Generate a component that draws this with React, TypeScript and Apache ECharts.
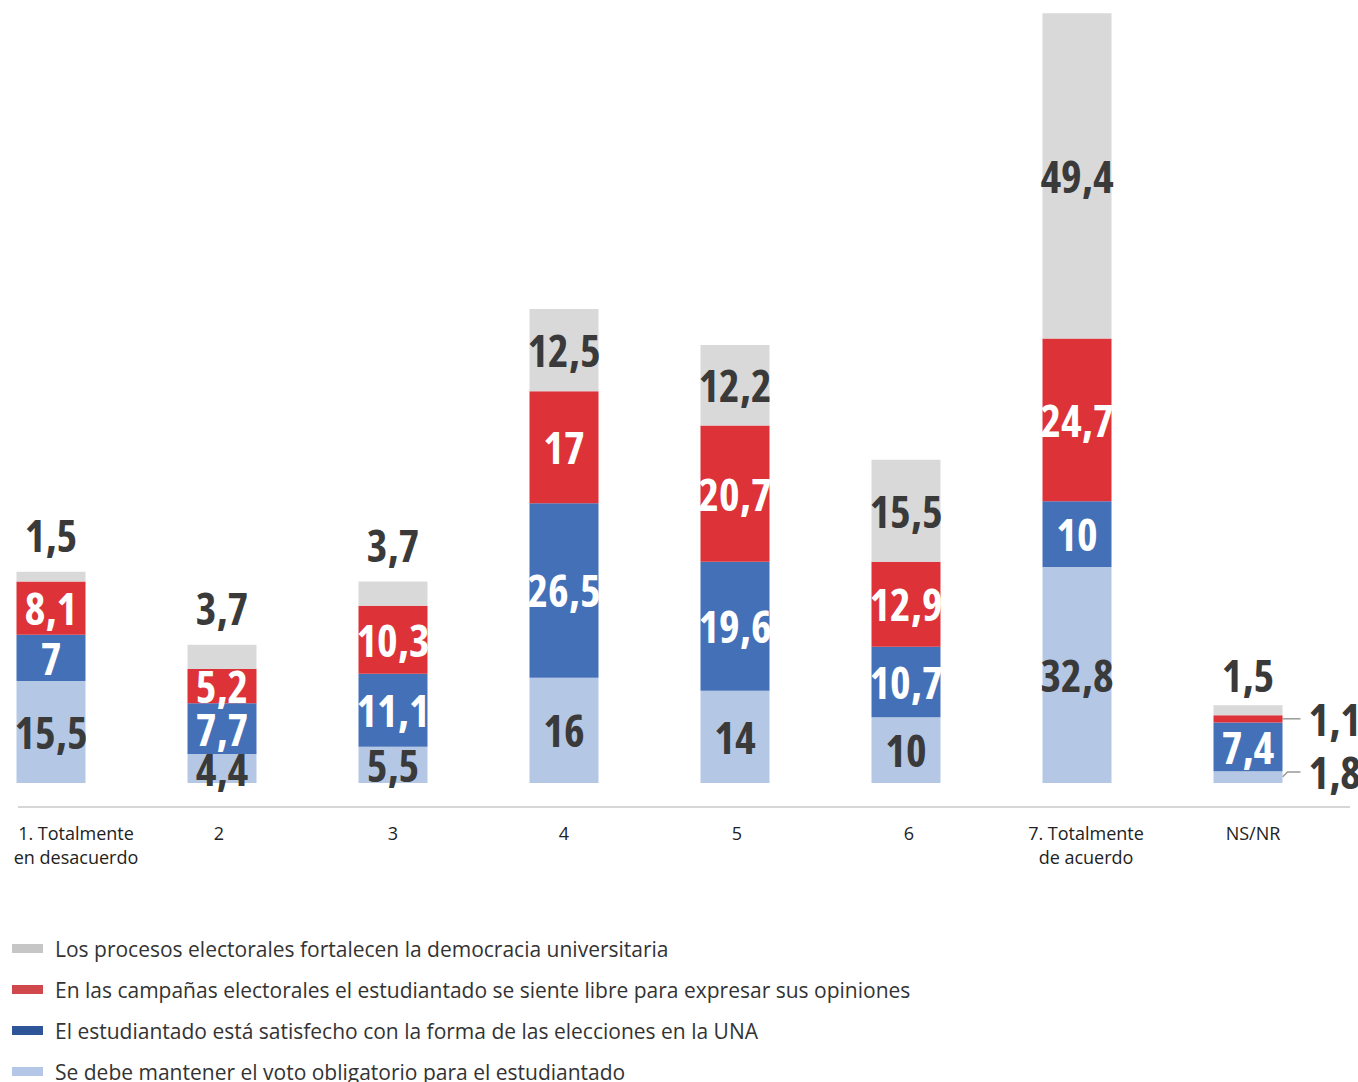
import React, { useEffect, useRef } from "react";
import * as echarts from "echarts";

const categories = ["1. Totalmente\nen desacuerdo", "2", "3", "4", "5", "6", "7. Totalmente\nde acuerdo", "NS/NR"];
const labelShift = [25, -3, 0, 0, 2, 3, 9, 5];

const seriesNames = [
  "Se debe mantener el voto obligatorio para el estudiantado",
  "El estudiantado está satisfecho con la forma de las elecciones en la UNA",
  "En las campañas electorales el estudiantado se siente libre para expresar sus opiniones",
  "Los procesos electorales fortalecen la democracia universitaria",
];
const votoObligatorio = [15.5, 4.4, 5.5, 16, 14, 10, 32.8, 1.8];
const satisfecho = [7, 7.7, 11.1, 26.5, 19.6, 10.7, 10, 7.4];
const libre = [8.1, 5.2, 10.3, 17, 20.7, 12.9, 24.7, 1.1];
const fortalecen = [1.5, 3.7, 3.7, 12.5, 12.2, 15.5, 49.4, 1.5];
const seriesValues = [votoObligatorio, satisfecho, libre, fortalecen];

const barColors = ["#b4c8e6", "#4470b8", "#dc3238", "#d9d9d9"];
const legendColors = ["#b4c7e7", "#2e5597", "#d0484c", "#c6c6c6"];
const labelColors = ["#3a3a3a", "#ffffff", "#ffffff", "#3a3a3a"];

// bar value labels: Open Sans bold, narrowed with font-stretch via the CSS below
const LABEL_FONT = "'Open Sans', oscmark, sans-serif";
const SHIFT = 50; // container starts 50px left of the page

const CSS = `text[style*="oscmark"] { font-stretch: 75%; }`;

export default function App() {
  const ref = useRef<HTMLDivElement>(null);
  useEffect(() => {
    if (!ref.current) return;
    const chart = echarts.init(ref.current, null, { renderer: "svg" });
    const fmt = (v: number) => String(v).replace(".", ",");
    const last = categories.length - 1;
    const series = seriesValues.map((vals, si) => ({
      name: seriesNames[si],
      type: "bar",
      stack: "total",
      barWidth: 69,
      itemStyle: { color: barColors[si] },
      label: {
        show: true,
        position: "inside",
        color: labelColors[si],
        fontFamily: LABEL_FONT,
        fontWeight: "bold",
        fontSize: 44,
        formatter: (p: any) => fmt(p.value),
      },
      data: vals.map((v, ci) => {
        if (v >= 4) return v;
        if (si === 3) {
          return { value: v, label: { position: "top", distance: ci === last ? 8 : 15, color: "#3a3a3a" } };
        }
        return { value: v, label: { position: "right", distance: 26, color: "#3a3a3a", offset: si === 0 ? [0, -5] : [0, 0] } };
      }),
    }));

    const option: any = {
      animation: false,
      grid: { left: SHIFT - 34.5, right: 24.5, top: 6, bottom: 299 },
      xAxis: {
        type: "category",
        data: categories.map((c, i) => ({
          value: c,
          textStyle: {
            padding: labelShift[i] >= 0 ? [0, 0, 0, labelShift[i] * 2] : [0, -labelShift[i] * 2, 0, 0],
          },
        })),
        axisLine: { show: false },
        axisTick: { show: false },
        axisLabel: {
          interval: 0,
          margin: 38,
          fontFamily: "'Open Sans', sans-serif",
          fontSize: 18,
          lineHeight: 24,
          color: "#222",
        },
      },
      yAxis: { type: "value", min: 0, max: 118, show: false, splitLine: { show: false } },
      legend: {
        orient: "vertical",
        left: SHIFT + 12,
        top: 938,
        height: 300,
        padding: 0,
        itemWidth: 31,
        itemHeight: 9,
        itemGap: 20,
        icon: "rect",
        textStyle: { fontFamily: "'Open Sans', sans-serif", fontSize: 21, color: "#333", lineHeight: 18, padding: [0, 0, 0, 7] },
        data: [3, 2, 1, 0].map((i) => ({ name: seriesNames[i], itemStyle: { color: legendColors[i] } })),
      },
      series,
    };
    chart.setOption(option);

    // leader lines for the small labels on the right of the last bar
    const cx = chart.convertToPixel({ xAxisIndex: 0 }, last) as number;
    const x0 = cx + 69 / 2;
    const lines: any[] = [];
    let cum = 0;
    seriesValues.forEach((vals, si) => {
      const v = vals[last];
      const mid = cum + v / 2;
      cum += v;
      if (v < 4 && si !== 3) {
        const y = chart.convertToPixel({ yAxisIndex: 0 }, mid) as number;
        const yEnd = si === 0 ? y - 5 : y;
        lines.push({
          type: "polyline",
          shape: { points: [[x0, y], [x0 + 5, yEnd], [x0 + 18, yEnd]] },
          style: { stroke: "#999", lineWidth: 1.5, fill: null },
        });
      }
    });
    const yBase = chart.convertToPixel({ yAxisIndex: 0 }, 0) as number;
    chart.setOption({
      graphic: [
        { type: "line", shape: { x1: SHIFT + 18, y1: yBase + 24, x2: SHIFT + 1350, y2: yBase + 24 }, style: { stroke: "#c8c8c8", lineWidth: 1.5 } },
        ...lines,
      ],
    });
    return () => chart.dispose();
  }, []);
  return (
    <>
      <style>{CSS}</style>
      <div ref={ref} style={{ position: "absolute", left: -SHIFT, top: 0, width: 1358 + SHIFT, height: 1082 }} />
    </>
  );
}
